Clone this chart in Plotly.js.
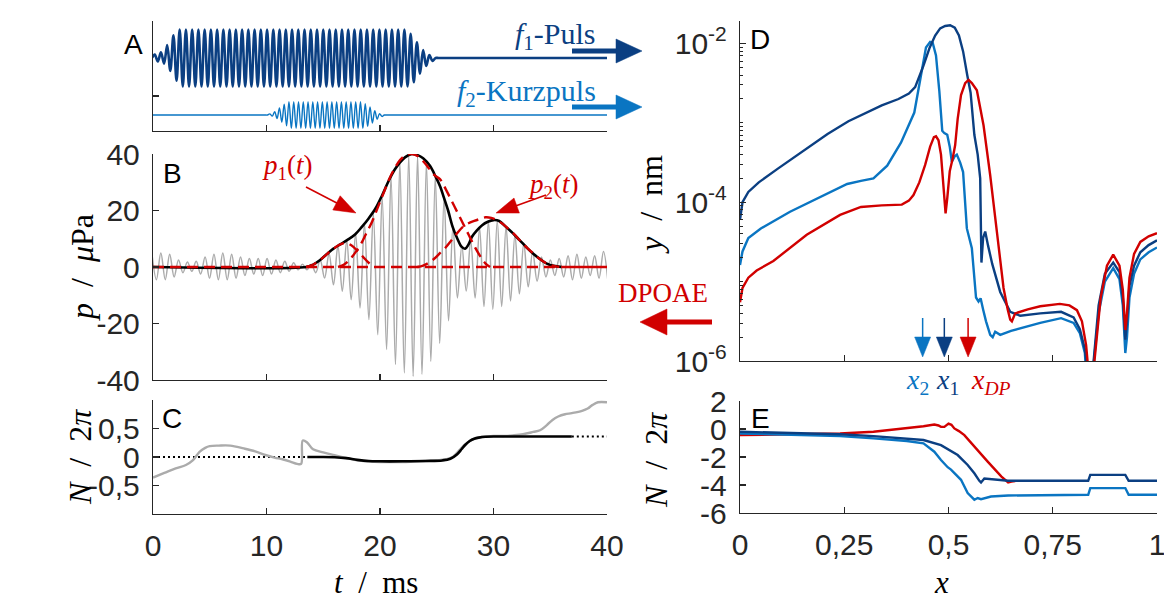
<!DOCTYPE html>
<html><head><meta charset="utf-8">
<script src="https://cdn.plot.ly/plotly-3.0.1.min.js"></script>
<style>html,body{margin:0;padding:0;background:#fff}</style>
</head><body><div id="chart" style="width:1164px;height:600px"></div>
<script>
// ---------------- DATA ----------------
// Panel A: per-cycle amplitudes of the two stimulus pulses
const f1Start = 0.15, f1Period = 0.55;
const f1Amp = [0.12,0.2,0.45,0.8,
  1,1,1,1,1,1,1,1,1,1,1,1,1,1,1,1,1,1,1,1,1,1,1,1,1,1,1,1,1,1,1,1,1,1,1,1,1,
  0.85,0.55,0.28,0.1];
const f2Start = 10.3, f2Period = 0.42;
const f2Amp = [0.04,0.12,0.25,0.38,
  0.47,0.47,0.47,0.47,0.47,0.47,0.47,0.47,0.47,0.47,0.47,0.47,0.47,0.47,0.47,0.47,
  0.4,0.28,0.15,0.05];

// Panel B: grey pressure signal extrema (peaks / troughs per cycle)
const greyStart = -0.09, greyPeriod = 0.78;
const greyPeaks = [4.5,5,4.5,2.5,1.8,2,3.5,4.5,5,4.5,3.5,3,3,3,2.5,2,1.5,1,1,2.5,4.8,7.5,9.5,12,15.5,19,25,32,37,39.5,
  39.5,37,32,25,14.5,7.5,9.5,14,16.3,16.3,14.3,11.5,8.5,5.5,3.5,2.5,3,4,4.5,3.5,4,5.5];
const greyTroughs = [-4.5,-4.5,-3.5,-2,-1.5,-2.5,-4,-4.5,-4.5,-4,-3,-2.5,-3,-2.5,-2,-1.5,-1,-1,-2,-3.9,-6.3,-8.6,-11.6,-14.5,
  -18.6,-24,-29.2,-34.5,-37.5,-38.7,-38,-33.4,-27,-19,-11,-8.5,-11,-14,-15,-14,-12,-9.5,-7,-5,-3.5,-3,-3.5,-4.5,-4,-3,-4,-5];
// envelope |p(t)|
const envT = [0,13.5,14.0,14.7,15.3,15.9,16.5,17.1,17.8,18.4,19.0,19.6,20.2,20.8,21.3,21.7,22.2,22.8,23.3,23.8,24.4,24.9,25.3,25.6,26.0,26.4,26.8,27.2,27.5,27.8,28.1,28.5,29.0,29.5,30.0,30.5,31.1,31.7,32.3,32.9,33.5,34.1,34.7,35.3,36.0];
const envP = [0,0,0.6,2.4,4.5,6.5,8.0,9.5,11.5,14.2,17.2,20.7,25.5,30.8,34.5,36.7,38.8,40,39.6,38.5,35.8,32,28.5,24.9,20,14.2,10.2,7.1,6.5,8.0,10.7,12.8,14.8,16.0,16.6,16.3,14.2,12.0,9.5,7.0,4.7,2.8,1.2,0.4,0];
// windowed components
const p0T = [13.5,14.1,14.7,15.3,15.9,16.5,17.0,17.5,18.0,18.5,19.0,19.5];
const p0V = [0,0.8,2.4,4.5,6.5,8.0,8.5,7.6,5.8,3.6,1.5,0];
const p1T = [16.3,16.8,17.3,17.8,18.3,18.8,19.3,19.8,20.3,20.8,21.3,21.8,22.3,22.8,23.3,23.8,24.3,24.8,25.3,25.8,26.3,26.8,27.3,27.8,28.3,28.8,29.3,29.7];
const p1V = [0,0.8,2.5,5,8,12,16,21,26,31,35,38,39.6,40,39.3,37.5,35,32.5,31,27.5,23.5,19.5,15.5,11.5,7.5,4,1.2,0];
const p2T = [23.3,23.8,24.3,24.8,25.3,25.8,26.3,26.8,27.3,27.8,28.3,28.8,29.3,29.8,30.3,30.8,31.3,31.8,32.3,32.8,33.3,33.8,34.3,34.8,35.3,35.8];
const p2V = [0,0.5,1.5,3,5,7,9.5,12,14.2,15.5,16.3,17,17.6,17.4,16.6,15.3,13.5,11.7,9.5,7.4,5.5,3.7,2.2,1.0,0.4,0];

// Panel C: phase N/2pi
const cGreyT = [0,1.0,2.0,2.9,3.5,4.1,4.6,5.0,5.8,6.8,8.0,9.0,9.9,10.7,11.4,12.1,12.7,13.05,13.2,13.6,14.1,15.0,15.9,17.1,18.0,19.0,20,21,22,23,24,25,25.8,26.4,27.0,27.5,28.0,28.5,29.0,30,31,31.7,32.6,33.5,34.1,34.7,35.2,35.7,36.3,36.9,37.8,38.3,38.7,39.2,40];
const cGreyN = [-0.36,-0.28,-0.2,-0.14,-0.06,0.09,0.16,0.19,0.2,0.2,0.15,0.1,0.035,-0.01,-0.04,-0.08,-0.12,-0.12,0.29,0.25,0.135,0.08,0.035,-0.02,-0.06,-0.08,-0.09,-0.09,-0.09,-0.08,-0.07,-0.06,-0.04,0.0,0.12,0.22,0.29,0.33,0.35,0.37,0.37,0.38,0.4,0.44,0.47,0.56,0.65,0.71,0.75,0.77,0.81,0.85,0.91,0.96,0.96];
const cBlackT = [13.6,15,16,17,18,19,20,22,24,25.5,26.2,26.8,27.2,27.5,27.9,28.3,28.7,29.3,30.2,32,34,36.9];
const cBlackN = [0,0,-0.005,-0.02,-0.05,-0.07,-0.075,-0.075,-0.07,-0.06,-0.03,0.05,0.14,0.21,0.28,0.32,0.34,0.355,0.36,0.36,0.36,0.36];
const cDotStartT = [0,13.6], cDotStartN = [0,0];
const cDotEndT = [36.9,40], cDotEndN = [0.36,0.36];

// Panel D: log10 of displacement y/nm along x
const dF1x = [0,0.006,0.02,0.045,0.09,0.15,0.21,0.26,0.3,0.34,0.38,0.405,0.42,0.44,0.455,0.468,0.48,0.492,0.504,0.515,0.525,0.535,0.545,0.553,0.562,0.57,0.576,0.579,0.583,0.588,0.595,0.605,0.624,0.648,0.672,0.72,0.77,0.8,0.815,0.827,0.836,0.841,0.848,0.86,0.875,0.895,0.91,0.918,0.924,0.928,0.934,0.945,0.96,0.98,1.0];
const dF1log = [-4.22,-4.0,-3.87,-3.75,-3.58,-3.36,-3.14,-2.98,-2.88,-2.78,-2.7,-2.63,-2.55,-2.28,-2.05,-1.9,-1.81,-1.78,-1.77,-1.8,-1.9,-2.1,-2.4,-2.62,-3.15,-3.4,-3.7,-4.76,-4.45,-4.37,-4.55,-4.78,-5.13,-5.38,-5.43,-5.40,-5.38,-5.45,-5.6,-5.85,-6.3,-6.5,-6.0,-5.3,-4.9,-4.76,-4.88,-5.2,-5.73,-5.5,-5.05,-4.8,-4.63,-4.54,-4.48];
const dF2x = [0,0.006,0.02,0.05,0.12,0.2,0.257,0.29,0.32,0.353,0.386,0.418,0.434,0.446,0.456,0.462,0.47,0.478,0.485,0.49,0.497,0.503,0.508,0.515,0.52,0.528,0.535,0.544,0.556,0.566,0.572,0.577,0.583,0.59,0.6,0.606,0.612,0.624,0.65,0.72,0.77,0.8,0.815,0.827,0.835,0.845,0.86,0.875,0.895,0.91,0.918,0.924,0.928,0.934,0.945,0.96,0.98,1.0];
const dF2log = [-4.79,-4.62,-4.45,-4.33,-4.12,-3.91,-3.77,-3.73,-3.70,-3.54,-3.25,-2.87,-2.4,-2.05,-1.98,-1.99,-2.15,-2.6,-3.1,-3.13,-3.15,-3.3,-3.49,-3.42,-3.40,-3.5,-3.62,-4.33,-4.58,-5.2,-5.25,-5.21,-5.35,-5.5,-5.67,-5.7,-5.63,-5.67,-5.62,-5.52,-5.46,-5.52,-5.65,-5.9,-6.5,-6.2,-5.4,-5.0,-4.83,-4.97,-5.3,-5.9,-5.7,-5.2,-4.9,-4.72,-4.63,-4.57];
const dDPx = [0,0.006,0.02,0.04,0.08,0.16,0.24,0.29,0.34,0.388,0.405,0.416,0.43,0.444,0.456,0.465,0.47,0.476,0.482,0.488,0.493,0.497,0.503,0.51,0.516,0.522,0.53,0.54,0.548,0.556,0.568,0.584,0.6,0.616,0.632,0.642,0.648,0.652,0.66,0.69,0.72,0.767,0.79,0.808,0.82,0.83,0.836,0.842,0.85,0.865,0.88,0.895,0.91,0.918,0.924,0.928,0.934,0.945,0.96,0.98,1.0];
const dDPlog = [-5.26,-5.08,-4.95,-4.86,-4.74,-4.41,-4.16,-4.06,-4.04,-4.03,-3.98,-3.91,-3.75,-3.53,-3.3,-3.18,-3.17,-3.22,-3.4,-3.75,-4.14,-3.95,-3.61,-3.45,-3.28,-2.95,-2.65,-2.5,-2.46,-2.5,-2.59,-3.03,-3.66,-4.37,-5.08,-5.35,-5.48,-5.5,-5.4,-5.35,-5.31,-5.28,-5.3,-5.36,-5.5,-5.8,-6.3,-6.5,-6.0,-5.2,-4.8,-4.66,-4.8,-5.1,-5.61,-5.4,-4.95,-4.65,-4.5,-4.43,-4.39];
const xMarks = [0.438, 0.49, 0.547];   // x2, x1, xDP

// Panel E: phase N/2pi along x
const eF1x = [0,0.08,0.24,0.32,0.4,0.44,0.482,0.522,0.546,0.562,0.574,0.578,0.586,0.602,0.643,0.835,0.838,0.84,0.924,0.927,0.932,1.0];
const eF1N = [-0.2,-0.27,-0.37,-0.51,-0.67,-0.79,-1.15,-1.86,-2.57,-3.16,-3.70,-3.82,-3.54,-3.59,-3.70,-3.70,-3.4,-3.28,-3.28,-3.45,-3.70,-3.70];
const eF2x = [0,0.08,0.24,0.32,0.4,0.44,0.466,0.482,0.498,0.506,0.514,0.53,0.546,0.562,0.57,0.578,0.602,0.643,0.835,0.838,0.84,0.924,0.927,0.932,1.0];
const eF2N = [-0.32,-0.37,-0.51,-0.67,-0.86,-1.03,-1.62,-2.21,-2.73,-2.9,-3.16,-3.63,-4.58,-5.05,-4.93,-5.01,-4.82,-4.75,-4.70,-4.4,-4.22,-4.22,-4.4,-4.70,-4.70];
const eDPx = [0,0.08,0.24,0.32,0.4,0.44,0.466,0.476,0.482,0.49,0.5,0.507,0.514,0.525,0.538,0.562,0.594,0.627,0.643,0.651,0.66];
const eDPN = [-0.44,-0.39,-0.32,-0.2,0.04,0.2,0.32,0.25,0.15,0.15,0.39,0.3,0.04,-0.15,-0.44,-1.27,-2.33,-3.40,-3.82,-3.75,-3.72];

// ---------------- STYLE / LAYOUT ----------------
const W = 1164, H = 600;
const X = px => px / W, Y = py => 1 - py / H;
const LX0 = 153, LX1 = 607, RX0 = 740, RX1 = 1157;
const dark = '#0b3f82', light = '#0a75c2', red = '#d10000', grey = '#ababab', axc = '#262626';
const F2_OFFSET = -2;

function pulse(start, period, amps, offset) {
  const h = period / 2, xs = [0, start - 2*h, start - h], ys = [offset, offset, offset];
  let t = start;
  amps.forEach(a => { xs.push(t); ys.push(offset + a); xs.push(t + h); ys.push(offset - a); t += period; });
  xs.push(t, t + h, 40); ys.push(offset, offset, offset);
  return {xs, ys};
}
const A1 = pulse(f1Start, f1Period, f1Amp, 0);
const A2 = pulse(f2Start, f2Period, f2Amp, F2_OFFSET);
const gX = [], gY = [];
greyPeaks.forEach((p, k) => {
  gX.push(greyStart + k*greyPeriod); gY.push(p);
  if (k < greyTroughs.length) { gX.push(greyStart + (k + 0.5)*greyPeriod); gY.push(greyTroughs[k]); }
});
const pow10 = a => a.map(v => Math.pow(10, v));

const traces = [
  {x: A1.xs, y: A1.ys, xaxis:'x', yaxis:'y', mode:'lines', line:{color:dark, width:2.6, shape:'spline'}},
  {x: A2.xs, y: A2.ys, xaxis:'x', yaxis:'y', mode:'lines', line:{color:light, width:1.4, shape:'spline'}},
  {x: gX, y: gY, xaxis:'x2', yaxis:'y2', mode:'lines', line:{color:grey, width:1.5, shape:'spline'}},
  {x: envT, y: envP, xaxis:'x2', yaxis:'y2', mode:'lines', line:{color:'#000', width:2.6, shape:'spline'}},
  {x: [0, 36], y: [0, 0], xaxis:'x2', yaxis:'y2', mode:'lines', line:{color:red, width:2.4, dash:'11px,6px'}},
  {x: [36, 40], y: [0, 0], xaxis:'x2', yaxis:'y2', mode:'lines', line:{color:red, width:2.4}},
  {x: p0T, y: p0V, xaxis:'x2', yaxis:'y2', mode:'lines', line:{color:red, width:2.4, dash:'11px,6px', shape:'spline'}},
  {x: p1T, y: p1V, xaxis:'x2', yaxis:'y2', mode:'lines', line:{color:red, width:2.4, dash:'11px,6px', shape:'spline'}},
  {x: p2T, y: p2V, xaxis:'x2', yaxis:'y2', mode:'lines', line:{color:red, width:2.4, dash:'11px,6px', shape:'spline'}},
  {x: cDotStartT, y: cDotStartN, xaxis:'x3', yaxis:'y3', mode:'lines', line:{color:'#000', width:2, dash:'2px,3px'}},
  {x: cDotEndT, y: cDotEndN, xaxis:'x3', yaxis:'y3', mode:'lines', line:{color:'#000', width:2, dash:'2px,3px'}},
  {x: cGreyT, y: cGreyN, xaxis:'x3', yaxis:'y3', mode:'lines', line:{color:grey, width:2.4, shape:'spline'}},
  {x: cBlackT, y: cBlackN, xaxis:'x3', yaxis:'y3', mode:'lines', line:{color:'#000', width:2.6, shape:'spline'}},
  {x: dF2x, y: pow10(dF2log), xaxis:'x4', yaxis:'y4', mode:'lines', line:{color:light, width:2.4}},
  {x: dF1x, y: pow10(dF1log), xaxis:'x4', yaxis:'y4', mode:'lines', line:{color:dark, width:2.4}},
  {x: dDPx, y: pow10(dDPlog), xaxis:'x4', yaxis:'y4', mode:'lines', line:{color:red, width:2.4}},
  {x: eDPx, y: eDPN, xaxis:'x5', yaxis:'y5', mode:'lines', line:{color:red, width:2.4}},
  {x: eF2x, y: eF2N, xaxis:'x5', yaxis:'y5', mode:'lines', line:{color:light, width:2.4}},
  {x: eF1x, y: eF1N, xaxis:'x5', yaxis:'y5', mode:'lines', line:{color:dark, width:2.4}}
];

const tickFont = {family:'Liberation Sans, Arial, sans-serif', size:30, color:axc};
function ax(o) {
  return Object.assign({showline:true, linecolor:axc, linewidth:1.2, ticks:'inside', ticklen:6, tickwidth:1.2,
    tickcolor:axc, showgrid:false, zeroline:false, tickfont:tickFont, fixedrange:true, ticklabeloverflow:'allow'}, o);
}
const yTopA = 1.298, yBotA = -2.561;
const layout = {
  width:W, height:H, margin:{l:0, r:0, t:0, b:0}, paper_bgcolor:'#fff', plot_bgcolor:'rgba(0,0,0,0)', showlegend:false,
  xaxis: ax({domain:[X(LX0), X(LX1)], range:[0,40], tickvals:[0,10,20,30,40], showticklabels:false, anchor:'y'}),
  yaxis: ax({domain:[Y(131), Y(21)], range:[yBotA, yTopA], tickvals:[-1.333, yTopA], showticklabels:false, anchor:'x'}),
  xaxis2: ax({domain:[X(LX0), X(LX1)], range:[0,40], tickvals:[0,10,20,30,40], showticklabels:false, anchor:'y2'}),
  yaxis2: ax({domain:[Y(380), Y(154)], range:[-40,40], tickvals:[-40,-20,0,20,40], ticktext:['-40','-20','0','20','40'], anchor:'x2', ticklabelstandoff:6}),
  xaxis3: ax({domain:[X(LX0), X(LX1)], range:[0,40], tickvals:[0,10,20,30,40], ticktext:['0','10','20','30','40'], anchor:'y3', ticklabelstandoff:5}),
  yaxis3: ax({domain:[Y(514), Y(400)], range:[-1,1], tickvals:[-1,-0.5,0,0.5,1], ticktext:['','-0,5','0','0,5',''], anchor:'x3', ticklabelstandoff:6}),
  xaxis4: ax({domain:[X(RX0), X(RX1)], range:[0,1], tickvals:[0,0.25,0.5,0.75,1], showticklabels:false, anchor:'y4'}),
  yaxis4: ax({domain:[Y(361), Y(21)], type:'log', range:[-6,-1.717], tickvals:[1e-6,1e-4,1e-2],
    ticktext:['10<sup>-6</sup>','10<sup>-4</sup>','10<sup>-2</sup>'], anchor:'x4', ticklabelstandoff:6,
    minor:{ticks:'inside', ticklen:3, tickwidth:1, tickcolor:axc, showgrid:false,
      tickvals:[2e-6,3e-6,4e-6,5e-6,6e-6,7e-6,8e-6,9e-6,1e-5,2e-5,3e-5,4e-5,5e-5,6e-5,7e-5,8e-5,9e-5,
        2e-4,3e-4,4e-4,5e-4,6e-4,7e-4,8e-4,9e-4,1e-3,2e-3,3e-3,4e-3,5e-3,6e-3,7e-3,8e-3,9e-3,2e-2]}}),
  xaxis5: ax({domain:[X(RX0), X(RX1)], range:[0,1], tickvals:[0,0.25,0.5,0.75,1], ticktext:['0','0,25','0,5','0,75','1'], anchor:'y5', ticklabelstandoff:5}),
  yaxis5: ax({domain:[Y(513), Y(401)], range:[-6,2], tickvals:[-6,-4,-2,0,2], ticktext:['-6','-4','-2','0','2'], anchor:'x5', ticklabelstandoff:6}),
  annotations: [], shapes: []
};

const sans = 'Liberation Sans, Arial, sans-serif', serif = 'Liberation Serif, Times New Roman, serif';
function txt(text, px, py, opt) {
  layout.annotations.push(Object.assign({text, x:X(px), y:Y(py), xref:'paper', yref:'paper', showarrow:false,
    xanchor:'center', yanchor:'middle', font:{family:serif, size:28, color:'#000'}}, opt || {}));
}
function arrow(x0, y0, x1, y1, color, lw, hl, hw) {
  const dx = x1 - x0, dy = y1 - y0, L = Math.hypot(dx, dy), ux = dx / L, uy = dy / L;
  const bx = x1 - ux * hl, by = y1 - uy * hl, nx = -uy, ny = ux;
  layout.shapes.push({type:'line', xref:'paper', yref:'paper', x0:X(x0), y0:Y(y0), x1:X(bx + ux*2), y1:Y(by + uy*2), line:{color, width:lw}});
  layout.shapes.push({type:'path', xref:'paper', yref:'paper',
    path:`M ${X(x1)} ${Y(y1)} L ${X(bx + nx*hw)} ${Y(by + ny*hw)} L ${X(bx - nx*hw)} ${Y(by - ny*hw)} Z`,
    fillcolor:color, line:{color, width:0.5}});
}

// panel letters
txt('A', 133, 44, {font:{family:sans, size:28, color:'#000'}});
txt('B', 172, 173, {font:{family:sans, size:28, color:'#000'}});
txt('C', 172, 418, {font:{family:sans, size:28, color:'#000'}});
txt('D', 760, 40, {font:{family:sans, size:28, color:'#000'}});
txt('E', 760, 418, {font:{family:sans, size:28, color:'#000'}});
// pulse labels and arrows
txt('<i>f</i><sub>1</sub>-Puls', 598, 36, {xanchor:'right', font:{family:serif, size:30, color:dark}});
txt('<i>f</i><sub>2</sub>-Kurzpuls', 598, 93, {xanchor:'right', font:{family:serif, size:30, color:light}});
arrow(572, 51, 642, 51, dark, 5, 26, 12);
arrow(572, 107, 642, 107, light, 5, 26, 12);
txt('DPOAE', 663, 293, {font:{family:serif, size:27, color:red}});
arrow(712, 322, 640, 322, red, 5, 27, 13);
// p1, p2 labels
txt('<i>p</i><sub>1</sub>(<i>t</i>)', 287, 167, {font:{family:serif, size:27, color:red}});
txt('<i>p</i><sub>2</sub>(<i>t</i>)', 553, 186, {font:{family:serif, size:27, color:red}});
arrow(306, 187, 356, 213, red, 1.5, 22, 8);
arrow(546, 195, 496, 213, red, 1.5, 22, 8);
// x markers in D
const markCol = [light, dark, red];
xMarks.forEach((xm, i) => { const px = RX0 + (RX1 - RX0) * xm; arrow(px, 318, px, 357, markCol[i], 1.5, 20, 8); });
txt('<i>x</i><sub>2</sub>', 917, 381, {font:{family:serif, size:28, color:light}});
txt('<i>x</i><sub>1</sub>', 947, 381, {font:{family:serif, size:28, color:dark}});
txt('<i>x</i><sub><i>DP</i></sub>', 991, 381, {font:{family:serif, size:28, color:red}});
// axis titles
txt('<i>p</i>  /  <i>μ</i>Pa', 82, 268, {textangle:-90, font:{family:serif, size:32, color:'#000'}});
txt('<i>N</i>  /  2<i>π</i>', 80, 457, {textangle:-90, font:{family:serif, size:32, color:'#000'}});
txt('<i>t</i>  /  ms', 376, 582, {font:{family:serif, size:31, color:'#000'}});
txt('<i>y</i>  /  nm', 651, 205, {textangle:-90, font:{family:serif, size:32, color:'#000'}});
txt('<i>N</i>  /  2<i>π</i>', 656, 460, {textangle:-90, font:{family:serif, size:32, color:'#000'}});
txt('<i>x</i>', 941, 582, {font:{family:serif, size:31, color:'#000'}});

Plotly.newPlot('chart', traces, layout, {staticPlot:true, displayModeBar:false});
</script></body></html>
